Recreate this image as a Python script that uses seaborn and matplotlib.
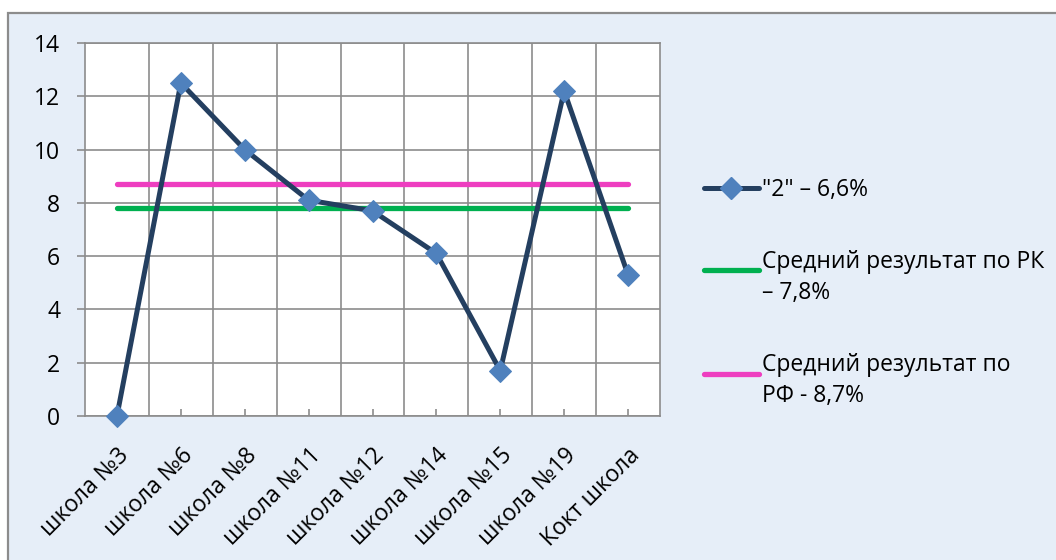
import matplotlib
matplotlib.use("Agg")
import matplotlib.pyplot as plt
import seaborn as sns
import pandas as pd
from matplotlib.patches import Rectangle
from matplotlib.lines import Line2D
from matplotlib.legend_handler import HandlerLine2D
from matplotlib.ticker import FixedLocator

# ---- data ----
schools = ["школа №3", "школа №6", "школа №8", "школа №11", "школа №12",
           "школа №14", "школа №15", "школа №19", "Кокт школа"]
values = [0, 12.5, 10, 8.1, 7.7, 6.1, 1.7, 12.2, 5.3]
rk_avg = 7.8
rf_avg = 8.7
y_ticks = [0, 2, 4, 6, 8, 10, 12, 14]
label_main = '"2" – 6,6%'
label_rk = "Средний результат по РК\n– 7,8%"
label_rf = "Средний результат по\nРФ - 8,7%"

NAVY = "#243F60"
MARK = "#4F81BD"
GREEN = "#00B050"
PINK = "#EE3EC0"
GRID = "#8C8C8C"
BG = "#E6EEF8"

sns.set_theme(style="white")
plt.rcParams["font.family"] = ["Open Sans", "DejaVu Sans"]
plt.rcParams["text.color"] = "black"
FS = 16.5

W, H = 1056, 560
fig = plt.figure(figsize=(W / 100, H / 100), dpi=100, facecolor="white")

# outer chart area
fig.patches.append(Rectangle((8 / W, -0.1), 1.2, 1.1 - 13 / H, transform=fig.transFigure,
                             facecolor=BG, edgecolor=GRID, linewidth=1.6, zorder=-10))

ax = fig.add_axes([85 / W, 1 - 416 / H, (660 - 85) / W, (416 - 43) / H])
ax.set_facecolor("white")

df = pd.DataFrame({"school": schools, "value": values,
                   "rk": [rk_avg] * len(schools), "rf": [rf_avg] * len(schools)})

sns.lineplot(data=df, x="school", y="rf", sort=False, ax=ax, color=PINK,
             linewidth=3.8, solid_capstyle="round", zorder=3)
sns.lineplot(data=df, x="school", y="rk", sort=False, ax=ax, color=GREEN,
             linewidth=3.8, solid_capstyle="round", zorder=3)
sns.lineplot(data=df, x="school", y="value", sort=False, ax=ax, color=NAVY,
             linewidth=3.6, marker="D", markersize=11, markerfacecolor=MARK,
             markeredgecolor=MARK, clip_on=False, zorder=5)

ax.set_xlim(-0.5, len(schools) - 0.5)
ax.set_ylim(0, 14)
ax.set_yticks(y_ticks)
ax.set_yticklabels([str(v) for v in y_ticks], fontsize=FS, color="black")
ax.set_xticks(range(len(schools)))
ax.set_xticklabels(schools, fontsize=FS, color="black", rotation=45,
                   ha="right", va="top", rotation_mode="anchor")
ax.xaxis.set_minor_locator(FixedLocator([i + 0.5 for i in range(len(schools) - 1)]))
ax.set_xlabel("")
ax.set_ylabel("")

ax.grid(False)
ax.yaxis.grid(True, which="major", color=GRID, linewidth=1.2)
ax.xaxis.grid(True, which="minor", color=GRID, linewidth=1.2)
ax.set_axisbelow(True)
for s in ax.spines.values():
    s.set_color(GRID)
    s.set_linewidth(1.2)
ax.tick_params(axis="y", which="major", direction="out", length=6, color=GRID,
               width=1.2, pad=12, left=True)
ax.tick_params(axis="x", which="major", direction="in", length=5, color=GRID,
               width=1.2, pad=20, bottom=True)
ax.tick_params(axis="x", which="minor", length=0)


class UpHandler(HandlerLine2D):
    def __init__(self, shift=0.0, **kw):
        super().__init__(**kw)
        self.shift = shift

    def create_artists(self, legend, orig_handle, xdescent, ydescent, width,
                       height, fontsize, trans):
        return super().create_artists(legend, orig_handle, xdescent,
                                      ydescent - self.shift, width, height,
                                      fontsize, trans)


h_main = Line2D([], [], color=NAVY, linewidth=3.6, marker="D", markersize=11,
                markerfacecolor=MARK, markeredgecolor=MARK)
h_rk = Line2D([], [], color=GREEN, linewidth=3.8, solid_capstyle="round")
h_rf = Line2D([], [], color=PINK, linewidth=3.8, solid_capstyle="round")
shift = 0.7 * FS
leg = fig.legend([h_main, h_rk, h_rf], [label_main, label_rk, label_rf],
                 loc="center left", bbox_to_anchor=(683 / W, 1 - 293 / H),
                 frameon=False, fontsize=FS, handlelength=2.4, handletextpad=0.15,
                 labelspacing=2.1,
                 handler_map={h_rk: UpHandler(shift=shift),
                              h_rf: UpHandler(shift=shift)})
for t in leg.get_texts():
    t.set_linespacing(1.4)
    t.set_color("black")

fig.savefig("out.png", dpi=100, facecolor="white")
